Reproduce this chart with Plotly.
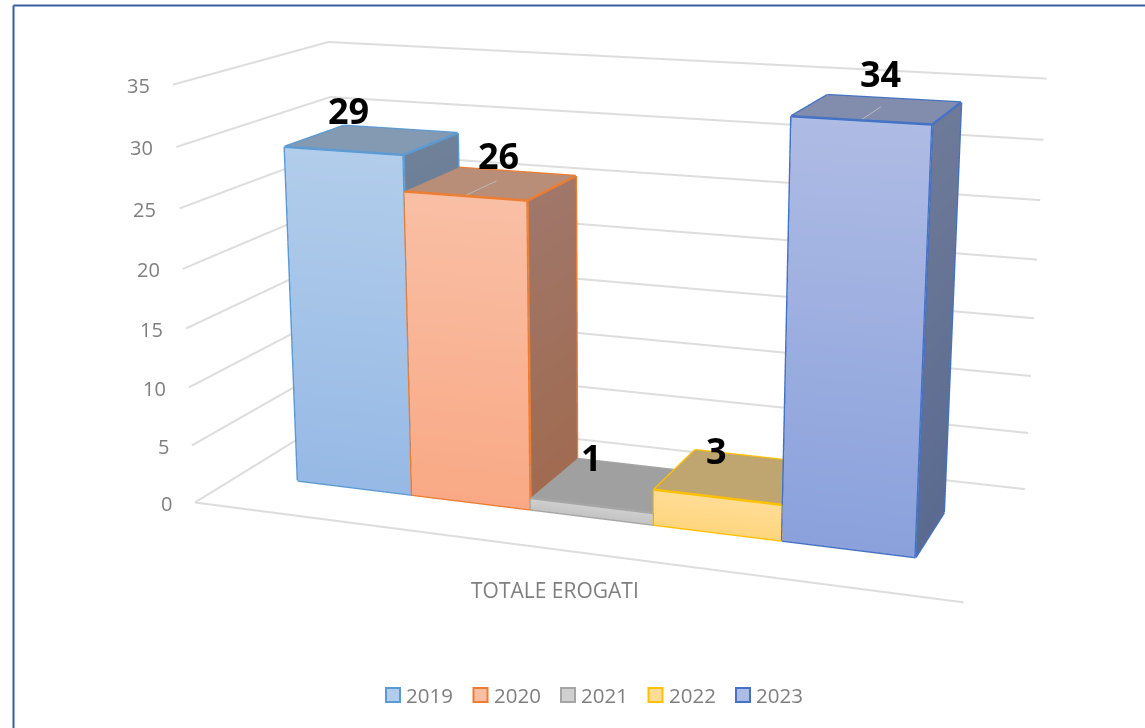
import plotly.graph_objects as go

years = ["2019", "2020", "2021", "2022", "2023"]
values = [29, 26, 1, 3, 34]
ticks = [0, 5, 10, 15, 20, 25, 30, 35]
category = "TOTALE EROGATI"
line_col = ["#5B9BD5", "#ED7D31", "#A5A5A5", "#FFC000", "#4472C4"]
front_top = ["#B2CDEB", "#F9BFA5", "#D0D0D0", "#FFDD96", "#AEBBE4"]
front_bot = ["#96B9E5", "#F9A985", "#C4C4C4", "#FFD67F", "#8AA1DC"]
top_col = ["#8499B2", "#B98E78", "#A0A0A0", "#BFA570", "#828CAC"]
side_top = ["#6E8198", "#A0776A", "#8A8A8A", "#A89060", "#6E7A98"]
side_bot = ["#64789A", "#A06A4F", "#808080", "#A08858", "#5A6A90"]
label_dx = [-52, -18, -44, -39, -13]
label_dy = [19, 16, 8, 6, 25]

# Window the picture is taken in, and the larger canvas the 3D scene needs:
# plotly's field of view is fixed, so the long lens of the original needs a tall scene.
WIN_W, WIN_H = 1145, 728
FIG_W, FIG_H = 1233, 1820
TOP = 576

def px(x):
    return x / FIG_W

def py(y):
    return 1 - (y + TOP) / FIG_H

# bar layout inside the category / depth axes
u0, bw, d0, d1 = 0.0842, 0.1667, 0.2945, 0.6972

fig = go.Figure()
gx, gy, gz = [], [], []
for t in ticks:
    gx += [0, 0, 1, None]; gy += [0, 1, 1, None]; gz += [t, t, t, None]
gx += [0, 1]; gy += [0, 0]; gz += [0, 0]
fig.add_trace(go.Scatter3d(x=gx, y=gy, z=gz, mode="lines", line=dict(color="#DDDDDD", width=4), hoverinfo="skip", showlegend=False))

for n, v in enumerate(values):
    a, b = u0 + n * bw, u0 + (n + 1) * bw
    faces = [
        ([(a, d0, v), (b, d0, v), (b, d0, 0), (a, d0, 0)], [front_top[n], front_top[n], front_bot[n], front_bot[n]]),
        ([(b, d0, v), (b, d1, v), (b, d1, 0), (b, d0, 0)], [side_top[n], side_top[n], side_bot[n], side_bot[n]]),
        ([(a, d0, v), (b, d0, v), (b, d1, v), (a, d1, v)], [top_col[n]] * 4),
    ]
    xs, ys, zs, cs, I, J, K = [], [], [], [], [], [], []
    for q, col in faces:
        s = len(xs)
        xs += [p[0] for p in q]; ys += [p[1] for p in q]; zs += [p[2] for p in q]; cs += col
        I += [s, s]; J += [s + 1, s + 2]; K += [s + 2, s + 3]
    fig.add_trace(go.Mesh3d(x=xs, y=ys, z=zs, i=I, j=J, k=K, vertexcolor=cs, flatshading=True,
                            lighting=dict(ambient=1, diffuse=0, specular=0, fresnel=0, roughness=1),
                            hoverinfo="skip", showlegend=False))
    ex, ey, ez = [], [], []
    for p0, p1 in [((a, d0, v), (b, d0, v)), ((b, d0, v), (b, d0, 0)), ((b, d0, 0), (a, d0, 0)), ((a, d0, 0), (a, d0, v)),
                   ((a, d0, v), (a, d1, v)), ((a, d1, v), (b, d1, v)), ((b, d1, v), (b, d0, v)),
                   ((b, d1, v), (b, d1, 0)), ((b, d1, 0), (b, d0, 0))]:
        ex += [p0[0], p1[0], None]; ey += [p0[1], p1[1], None]; ez += [p0[2], p1[2], None]
    fig.add_trace(go.Scatter3d(x=ex, y=ey, z=ez, mode="lines", line=dict(color=line_col[n], width=5), hoverinfo="skip", showlegend=False))
    if v > 20 and n > 0:
        c = (a + b) / 2
        fig.add_trace(go.Scatter3d(x=[c, c], y=[d0, d0 + 0.6 * (d1 - d0)], z=[v, v], mode="lines",
                                   line=dict(color="#BFBFBF", width=3), hoverinfo="skip", showlegend=False))

ann3 = []
for t in ticks:
    ann3.append(dict(x=0, y=0, z=t, text=str(t), showarrow=False, xanchor="right", xshift=-21, yshift=-1,
                     font=dict(family="Open Sans", size=20, color="#7F7F7F")))
for n, v in enumerate(values):
    ann3.append(dict(x=u0 + (n + .5) * bw, y=d1, z=v, text=f"<b>{v}</b>", showarrow=False,
                     xshift=label_dx[n], yshift=label_dy[n], font=dict(family="Open Sans", size=36, color="#000000")))
ann3.append(dict(x=.47, y=0, z=0, text=category, showarrow=False, xshift=22, yshift=-44,
                 font=dict(family="Open Sans", size=21, color="#7F7F7F")))

border = "#3A5F9F"
shapes = [
    dict(type="line", xref="paper", yref="paper", x0=px(13.5), x1=px(WIN_W), y0=py(5.5), y1=py(5.5), line=dict(color=border, width=2)),
    dict(type="line", xref="paper", yref="paper", x0=px(13.5), x1=px(13.5), y0=py(WIN_H), y1=py(5.5), line=dict(color=border, width=2)),
]
anns = []
for n, y in enumerate(years):
    x = 386 + n * 87.5
    shapes.append(dict(type="rect", xref="paper", yref="paper", x0=px(x), x1=px(x + 14), y0=py(702), y1=py(688),
                       fillcolor=front_top[n], line=dict(color=line_col[n], width=2)))
    anns.append(dict(xref="paper", yref="paper", x=px(x + 18), y=py(695), text=y, showarrow=False, xanchor="left", yanchor="middle",
                     font=dict(family="Open Sans", size=20.5, color="#7F7F7F")))

hidden = dict(visible=False, showgrid=False, zeroline=False, showticklabels=False, showbackground=False, title="")
fig.update_layout(
    width=FIG_W, height=FIG_H, margin=dict(l=0, r=0, t=0, b=0), paper_bgcolor="white", showlegend=False,
    shapes=shapes, annotations=anns,
    scene=dict(domain=dict(x=[0, 1], y=[0, 1]), aspectmode="manual", aspectratio=dict(x=1, y=0.4170, z=0.5425),
               xaxis=dict(hidden, range=[0, 1]), yaxis=dict(hidden, range=[0, 1]), zaxis=dict(hidden, range=[0, 35]),
               camera=dict(eye=dict(x=0.9184, y=-2.5482, z=0.6815), center=dict(x=0.0023, y=0.0033, z=-0.0534),
                           up=dict(x=0.0293, y=-0.0836, z=1), projection=dict(type="perspective")),
               annotations=ann3))
post = (f"document.documentElement.style.overflow='hidden';"
        f"document.body.style.overflow='hidden';document.body.style.margin='0';"
        f"document.body.style.height='{WIN_H}px';document.body.style.width='{WIN_W}px';"
        f"var g=document.getElementById('{{plot_id}}');g.style.position='absolute';g.style.left='0px';g.style.top='-{TOP}px';")
fig.write_html("out.html", post_script=post, config=dict(displayModeBar=False))
